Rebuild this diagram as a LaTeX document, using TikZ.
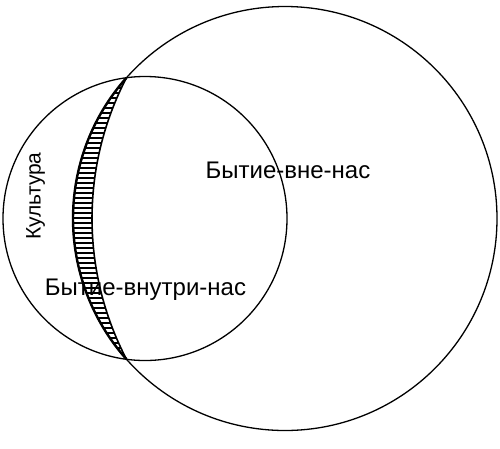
\documentclass[tikz,border=0pt]{standalone}
\usepackage{fontspec}
\setmainfont{Liberation Sans}
\begin{document}
\begin{tikzpicture}[x=1pt,y=-1pt,
  ring/.style={circle,draw,line width=1.3pt,inner sep=0pt},
  lbl/.style={font=\fontsize{24}{28}\selectfont,inner sep=0pt},
  hatchline/.style={line width=1.3pt}]
\useasboundingbox (0,0) rectangle (500,448);
% circles
\node[ring,minimum size=424pt] (big) at (285,218.5) {};
\node[ring,minimum size=284pt] (small) at (145,218.5) {};
% labels
\node[lbl,anchor=base] (outer) at (288,178.5) {Бытие-вне-нас};
\node[lbl,anchor=base] (inner) at (145.5,295.5) {Бытие-внутри-нас};
\node[lbl,font=\fontsize{21}{24}\selectfont,rotate=90] (culture) at (35.5,196) {Культура};
% crescent
\coordinate (T) at (126.5,77.7);
\begin{scope}
  \clip (T) arc[start angle=221.61,end angle=138.39,radius=212]
            arc[start angle=152.47,end angle=207.53,radius=304.6] -- cycle;
  \foreach \yy in {78,83,...,360} \draw[hatchline] (60,\yy) -- (140,\yy);
\end{scope}
\draw[line width=2.4pt] (T) arc[start angle=221.61,end angle=138.39,radius=212];
\draw[line width=1.6pt] (T) arc[start angle=207.53,end angle=152.47,radius=304.6];
\end{tikzpicture}
\end{document}
